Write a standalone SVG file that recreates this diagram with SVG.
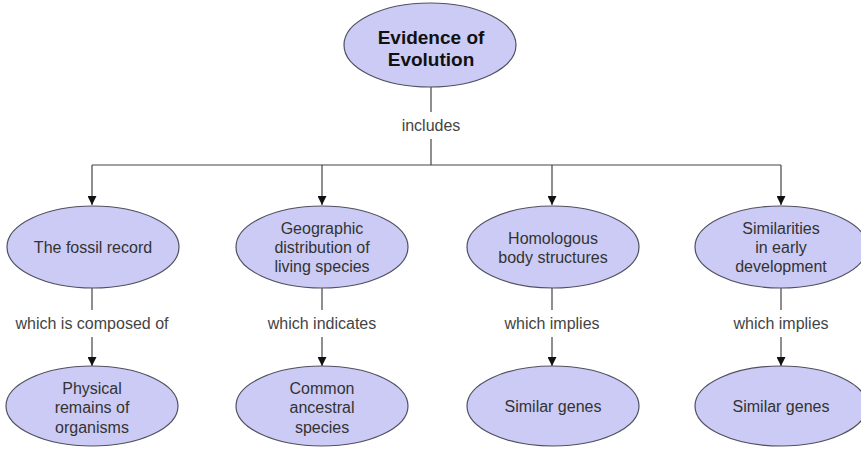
<svg xmlns="http://www.w3.org/2000/svg" width="861" height="452" viewBox="0 0 861 452">
<style>
.node ellipse{fill:#cbcbf5;stroke:#505060;stroke-width:1.2}
.node text{font-family:"Liberation Sans",Arial,sans-serif;font-size:16px;fill:#333;text-anchor:middle}
.title text{font-size:19px;font-weight:bold;fill:#111}
.conn line{stroke:#444;stroke-width:1.2}
.lbl{font-family:"Liberation Sans",Arial,sans-serif;font-size:16px;fill:#444;text-anchor:middle}
</style>
<defs>
<marker id="arr" viewBox="0 0 10 10" refX="10" refY="5" markerWidth="9" markerHeight="9" markerUnits="userSpaceOnUse" orient="auto">
<path d="M0,0 L10,5 L0,10 z" fill="#111"/>
</marker>
</defs>
<rect width="861" height="452" fill="#fff"/>
<g id="connectors" class="conn">
<line x1="431" y1="87" x2="431" y2="112"/>
<line x1="431" y1="139" x2="431" y2="165"/>
<line x1="92" y1="165" x2="781" y2="165"/>
<line x1="92" y1="165" x2="92" y2="205" marker-end="url(#arr)"/>
<line x1="322" y1="165" x2="322" y2="205" marker-end="url(#arr)"/>
<line x1="552" y1="165" x2="552" y2="205" marker-end="url(#arr)"/>
<line x1="781" y1="165" x2="781" y2="205" marker-end="url(#arr)"/>
<line x1="92" y1="288" x2="92" y2="310"/>
<line x1="92" y1="337" x2="92" y2="366" marker-end="url(#arr)"/>
<line x1="322" y1="288" x2="322" y2="310"/>
<line x1="322" y1="337" x2="322" y2="366" marker-end="url(#arr)"/>
<line x1="552" y1="288" x2="552" y2="310"/>
<line x1="552" y1="337" x2="552" y2="366" marker-end="url(#arr)"/>
<line x1="781" y1="288" x2="781" y2="310"/>
<line x1="781" y1="337" x2="781" y2="366" marker-end="url(#arr)"/>
<text class="lbl" x="431" y="131">includes</text>
<text class="lbl" x="92" y="329">which is composed of</text>
<text class="lbl" x="322" y="329">which indicates</text>
<text class="lbl" x="552" y="329">which implies</text>
<text class="lbl" x="781" y="329">which implies</text>
</g>
<g id="evidence" class="node title">
<ellipse cx="430" cy="45" rx="86" ry="42"/>
<text x="431" y="44">Evidence of</text>
<text x="431" y="66">Evolution</text>
</g>
<g id="fossil" class="node">
<ellipse cx="93" cy="247" rx="86" ry="41"/>
<text x="93" y="253">The fossil record</text>
</g>
<g id="geographic" class="node">
<ellipse cx="322" cy="247" rx="86" ry="41"/>
<text x="322" y="234">Geographic</text>
<text x="322" y="253">distribution of</text>
<text x="322" y="272">living species</text>
</g>
<g id="homologous" class="node">
<ellipse cx="553" cy="247" rx="86" ry="41"/>
<text x="553" y="244">Homologous</text>
<text x="553" y="263">body structures</text>
</g>
<g id="similarities" class="node">
<ellipse cx="781" cy="247" rx="86" ry="41"/>
<text x="781" y="234">Similarities</text>
<text x="781" y="253">in early</text>
<text x="781" y="272">development</text>
</g>
<g id="physical" class="node">
<ellipse cx="92" cy="406" rx="86" ry="40"/>
<text x="92" y="394">Physical</text>
<text x="92" y="413">remains of</text>
<text x="92" y="433">organisms</text>
</g>
<g id="common" class="node">
<ellipse cx="322" cy="406" rx="86" ry="40"/>
<text x="322" y="394">Common</text>
<text x="322" y="413">ancestral</text>
<text x="322" y="433">species</text>
</g>
<g id="genes1" class="node">
<ellipse cx="553" cy="406" rx="86" ry="40"/>
<text x="553" y="412">Similar genes</text>
</g>
<g id="genes2" class="node">
<ellipse cx="781" cy="406" rx="86" ry="40"/>
<text x="781" y="412">Similar genes</text>
</g>
</svg>
